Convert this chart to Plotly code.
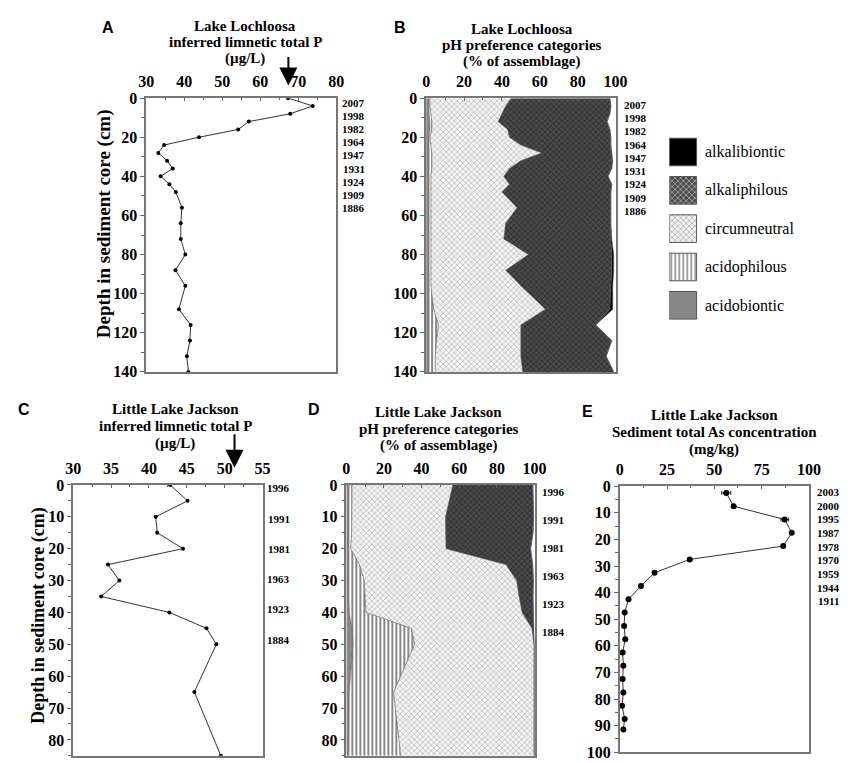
import plotly.graph_objects as go

W, H = 851, 763
SERIF = "Liberation Serif, Times New Roman, serif"
SANS = "Liberation Sans, Arial, sans-serif"

# A - Lake Lochloosa, inferred limnetic total P (ug/L) by depth (cm)
depth_a = [0, 4, 8, 12, 16, 20, 24, 28, 32, 36, 40, 44, 48, 56, 64, 72, 80, 88, 96, 108, 116, 124, 132, 140]
tp_a = [67.3, 73.8, 67.9, 57.0, 54.2, 43.9, 34.7, 33.2, 35.5, 37.0, 33.8, 36.1, 37.8, 39.4, 39.1, 39.1,
        40.3, 37.7, 40.3, 38.6, 41.7, 41.5, 40.7, 41.1]
measured_tp_a = 67.4

# B - Lake Lochloosa pH preference categories (% of assemblage), same depths as A
acidobiontic_b = [1.5, 1.5, 1.5, 2.0, 2.0, 1.5, 1.5, 1.5, 1.5, 1.5, 1.5, 1.5, 1.5, 1.5, 1.5, 1.5,
                  1.5, 1.5, 1.5, 1.5, 1.5, 1.5, 1.5, 1.5]
acidophilous_b = [0.5, 0.5, 1.0, 1.0, 1.0, 0.5, 1.0, 1.5, 1.5, 1.5, 1.0, 1.0, 1.0, 1.0, 1.0, 1.0,
                  1.0, 1.0, 1.0, 2.5, 5.0, 4.0, 3.3, 3.3]
circumneutral_b = [43, 40, 37.5, 35, 40, 42, 47.5, 58, 47, 41, 38.5, 41.5, 37.5, 45.5, 39.5, 38.5,
                   51.5, 39.5, 47.5, 59, 43.5, 44.5, 45.2, 46.2]
alkaliphilous_b = [52, 55.5, 57, 57.5, 54, 53.5, 47.5, 36.5, 48, 53.5, 55, 54, 57.5, 49.5, 55.5, 56.5,
                   44, 56, 47.5, 34, 39.5, 48, 45, 48]
alkalibiontic_b = [0, 0, 0, 0, 0, 0, 0, 0.5, 0.5, 0.5, 0, 0, 0, 0, 0, 0.5,
                   1, 1, 1, 1.5, 0, 0, 0, 0]

# C - Little Lake Jackson, inferred limnetic total P (ug/L)
depth_c = [0, 5, 10, 15, 20, 25, 30, 35, 40, 45, 50, 65, 85]
tp_c = [42.8, 45.1, 40.9, 41.1, 44.5, 34.6, 36.1, 33.7, 42.7, 47.6, 48.9, 46.0, 49.5]
measured_tp_c = 51.3

# D - Little Lake Jackson pH preference categories, same depths as C
acidobiontic_d = [1.2, 1.2, 1.2, 1.2, 1.0, 1.0, 1.0, 1.0, 1.5, 3.0, 3.5, 1.5, 1.2]
acidophilous_d = [1.8, 1.8, 1.8, 1.6, 1.3, 6.0, 8.5, 8.8, 8.9, 31.6, 32.8, 23.6, 27.7]
circumneutral_d = [53.6, 51.5, 49.7, 50.0, 50.7, 77.8, 81.0, 82.0, 83.0, 64.0, 63.5, 74.7, 70.9]
alkaliphilous_d = [42.5, 44.8, 46.8, 46.4, 44.9, 14.2, 8.9, 7.4, 5.7, 0.6, 0.0, 0.0, 0.0]
alkalibiontic_d = [0, 0, 0, 0, 0, 0, 0, 0, 0.2, 0.4, 0.2, 0.2, 0.2]

# E - Little Lake Jackson sediment total As (mg/kg)
depth_e = [2.5, 7.5, 12.5, 17.5, 22.5, 27.5, 32.5, 37.5, 42.5, 47.5, 52.5, 57.5, 62.5, 67.5,
           72.5, 77.5, 82.5, 87.5, 91.5]
as_e = [56.3, 60.2, 87.2, 90.9, 86.4, 37.0, 18.4, 11.2, 4.6, 2.6, 2.3, 2.9, 1.5, 1.9,
        1.5, 1.9, 1.2, 2.6, 1.9]
as_err_e = [2.4, 0, 2.0, 0, 0, 0, 0, 0, 0, 0, 0, 0, 0, 0, 0, 0, 0, 0, 0]

dates_lochloosa = ["2007", "1998", "1982", "1964", "1947", "1931", "1924", "1909", "1886"]
dates_jackson = ["1996", "1991", "1981", "1963", "1923", "1884"]
dates_as = ["2003", "2000", "1995", "1987", "1978", "1970", "1959", "1944", "1911"]

legend_names = ["alkalibiontic", "alkaliphilous", "circumneutral", "acidophilous", "acidobiontic"]

# fill look for each category: (pattern shape, background, foreground, solidity)
STYLE = {
    "acidobiontic": ("", "#888888", "#888888", 0.3),
    "acidophilous": ("|", "white", "#111111", 0.5),
    "circumneutral": ("x", "#f4f4f4", "#6e6e6e", 0.3),
    "alkaliphilous": ("x", "#4a4a4a", "#111111", 0.4),
    "alkalibiontic": ("", "black", "black", 0.3),
}

TICK = dict(family=SERIF, size=16, color="black", weight="bold")
DATE = dict(family=SERIF, size=11, color="black", weight="bold")
TITLE = dict(family=SERIF, size=15, color="black", weight="bold")
LETTER = dict(family=SANS, size=16, color="black", weight="bold")
LEGEND = dict(family=SERIF, size=16, color="black", weight="normal")


def px(x):
    return x / W


def py(y):
    return 1 - y / H


def x_axis(left, right, rng, dtick, minor, anchor):
    return dict(domain=[px(left), px(right)], range=rng, anchor=anchor, side="top",
                tick0=0, dtick=dtick, ticks="inside", ticklen=3, tickcolor="#666",
                minor=dict(dtick=minor, ticks="inside", ticklen=2, tickcolor="#666"),
                ticklabelstandoff=3, showline=True, linecolor="#777", linewidth=1.5,
                mirror=True, showgrid=False, zeroline=False, tickfont=TICK)


def y_axis(top, bottom, rng, dtick, minor, anchor):
    return dict(domain=[py(bottom), py(top)], range=rng, anchor=anchor,
                tick0=0, dtick=dtick, ticks="outside", ticklen=4, tickcolor="#666",
                minor=dict(dtick=minor, ticks="outside", ticklen=3, tickcolor="#666"),
                showline=True, linecolor="#777", linewidth=1.5, mirror=True,
                showgrid=False, zeroline=False, tickfont=TICK)


def stack(depth, layers, xa, ya, group):
    traces = []
    for name, vals in layers:
        shape, bg, fg, sol = STYLE[name]
        traces.append(go.Scatter(
            x=vals, y=depth, orientation="h", stackgroup=group, mode="lines",
            line=dict(width=0.6, color="#555"), fillcolor=bg,
            fillpattern=dict(shape=shape, bgcolor=bg, fgcolor=fg, size=4, solidity=sol),
            xaxis=xa, yaxis=ya, showlegend=False, name=name))
    return traces


fig = go.Figure()

fig.add_trace(go.Scatter(x=tp_a, y=depth_a, mode="lines+markers", xaxis="x", yaxis="y",
                         line=dict(color="#333", width=1), marker=dict(color="black", size=4),
                         showlegend=False))

for t in stack(depth_a, [("acidobiontic", acidobiontic_b), ("acidophilous", acidophilous_b),
                         ("circumneutral", circumneutral_b), ("alkaliphilous", alkaliphilous_b),
                         ("alkalibiontic", alkalibiontic_b)], "x2", "y2", "b"):
    fig.add_trace(t)

fig.add_trace(go.Scatter(x=tp_c, y=depth_c, mode="lines+markers", xaxis="x3", yaxis="y3",
                         line=dict(color="#333", width=1), marker=dict(color="black", size=4),
                         showlegend=False))

for t in stack(depth_c, [("acidobiontic", acidobiontic_d), ("acidophilous", acidophilous_d),
                         ("circumneutral", circumneutral_d), ("alkaliphilous", alkaliphilous_d),
                         ("alkalibiontic", alkalibiontic_d)], "x4", "y4", "d"):
    fig.add_trace(t)

fig.add_trace(go.Scatter(x=as_e, y=depth_e, mode="lines+markers", xaxis="x5", yaxis="y5",
                         line=dict(color="#333", width=1), marker=dict(color="black", size=6),
                         error_x=dict(type="data", array=as_err_e, visible=True, color="#333",
                                      thickness=1, width=2),
                         showlegend=False))

# legend drawn as patterned boxes
fig.add_trace(go.Bar(
    x=[1] * len(legend_names), y=legend_names, orientation="h", width=0.72,
    xaxis="x6", yaxis="y6", showlegend=False, cliponaxis=False,
    marker=dict(color=[STYLE[n][1] for n in legend_names],
                line=dict(color="#555", width=1),
                pattern=dict(shape=[STYLE[n][0] for n in legend_names],
                             bgcolor=[STYLE[n][1] for n in legend_names],
                             fgcolor=[STYLE[n][2] for n in legend_names],
                             solidity=[STYLE[n][3] for n in legend_names], size=4))))

annotations = []

for n in legend_names:
    annotations.append(dict(text=n, x=1, y=n, xref="x6", yref="y6", xanchor="left",
                            yanchor="middle", xshift=6, showarrow=False, font=LEGEND))


def add_lines(lines, cx, y0, step, font):
    for i, s in enumerate(lines):
        annotations.append(dict(text=s, x=px(cx), y=py(y0 + i * step), xref="paper", yref="paper",
                                showarrow=False, font=font, xanchor="center", yanchor="middle"))


add_lines(["Lake Lochloosa", "inferred limnetic total P", "(µg/L)"], 235, 10, 16.5, TITLE)
add_lines(["Lake Lochloosa", "pH preference categories", "(% of assemblage)"], 518, 13, 17, TITLE)
add_lines(["Little Lake Jackson", "inferred limnetic total P", "(µg/L)"], 163, 402, 17.5, TITLE)
add_lines(["Little Lake Jackson", "pH preference categories", "(% of assemblage)"], 433, 405, 17, TITLE)
add_lines(["Little Lake Jackson", "Sediment total As concentration", "(mg/kg)"], 715, 408, 17.5, TITLE)

add_lines(dates_lochloosa, 346, 89, 13.4, DATE)
add_lines(dates_lochloosa, 634, 90.7, 13.6, DATE)
add_lines(dates_jackson, 269, 483, 31, DATE)
add_lines(dates_jackson, 550, 487, 28.6, DATE)
add_lines(dates_as, 832, 486.7, 14, DATE)

for letter, x, y in [("A", 94, 12), ("B", 393, 12), ("C", 8, 402), ("D", 305, 402), ("E", 585, 405)]:
    annotations.append(dict(text=letter, x=px(x), y=py(y), xref="paper", yref="paper",
                            showarrow=False, font=LETTER, xanchor="center", yanchor="middle"))

for x, y, size in [(90, 212, 19), (23, 613, 18)]:
    annotations.append(dict(text="Depth in sediment core (cm)", x=px(x), y=py(y), xref="paper",
                            yref="paper", showarrow=False, textangle=-90,
                            font=dict(family=SERIF, size=size, color="black", weight="bold"),
                            xanchor="center", yanchor="middle"))

# measured total P arrows
annotations.append(dict(text="", x=measured_tp_a, xref="x", y=py(71), yref="paper",
                        showarrow=True, ax=0, ay=-30, arrowhead=2, arrowsize=1.8,
                        arrowwidth=2, arrowcolor="black"))
annotations.append(dict(text="", x=measured_tp_c, xref="x3", y=py(462), yref="paper",
                        showarrow=True, ax=0, ay=-35, arrowhead=2, arrowsize=1.8,
                        arrowwidth=2, arrowcolor="black"))

fig.update_layout(
    width=W, height=H, margin=dict(l=0, r=0, t=0, b=0),
    paper_bgcolor="white", plot_bgcolor="white", showlegend=False, barmode="overlay",
    font=dict(family=SERIF),
    xaxis=x_axis(133.3, 328, [30, 80], 10, 5, "y"),
    yaxis=y_axis(84, 364, [140, 0], 20, 10, "x"),
    xaxis2=x_axis(420, 614, [0, 100], 20, 10, "y2"),
    yaxis2=y_axis(84, 364, [140, 0], 20, 10, "x2"),
    xaxis3=x_axis(58.5, 252.5, [30, 55], 5, 2.5, "y3"),
    yaxis3=y_axis(479.6, 756.7, [85, 0], 10, 5, "x3"),
    xaxis4=x_axis(338.3, 531, [0, 100], 20, 10, "y4"),
    yaxis4=y_axis(479.6, 756.7, [85, 0], 10, 5, "x4"),
    xaxis5=x_axis(618.3, 812, [0, 100], 25, 12.5, "y5"),
    yaxis5=y_axis(481, 753, [100, 0], 10, 5, "x5"),
    xaxis6=dict(domain=[px(669), px(851)], range=[0, 6.5], anchor="y6", visible=False),
    yaxis6=dict(domain=[py(315.5), py(119.5)], range=[4.5, -0.5], anchor="x6", visible=False,
                type="category", categoryarray=legend_names),
    annotations=annotations,
)

fig.write_html("out.html")
